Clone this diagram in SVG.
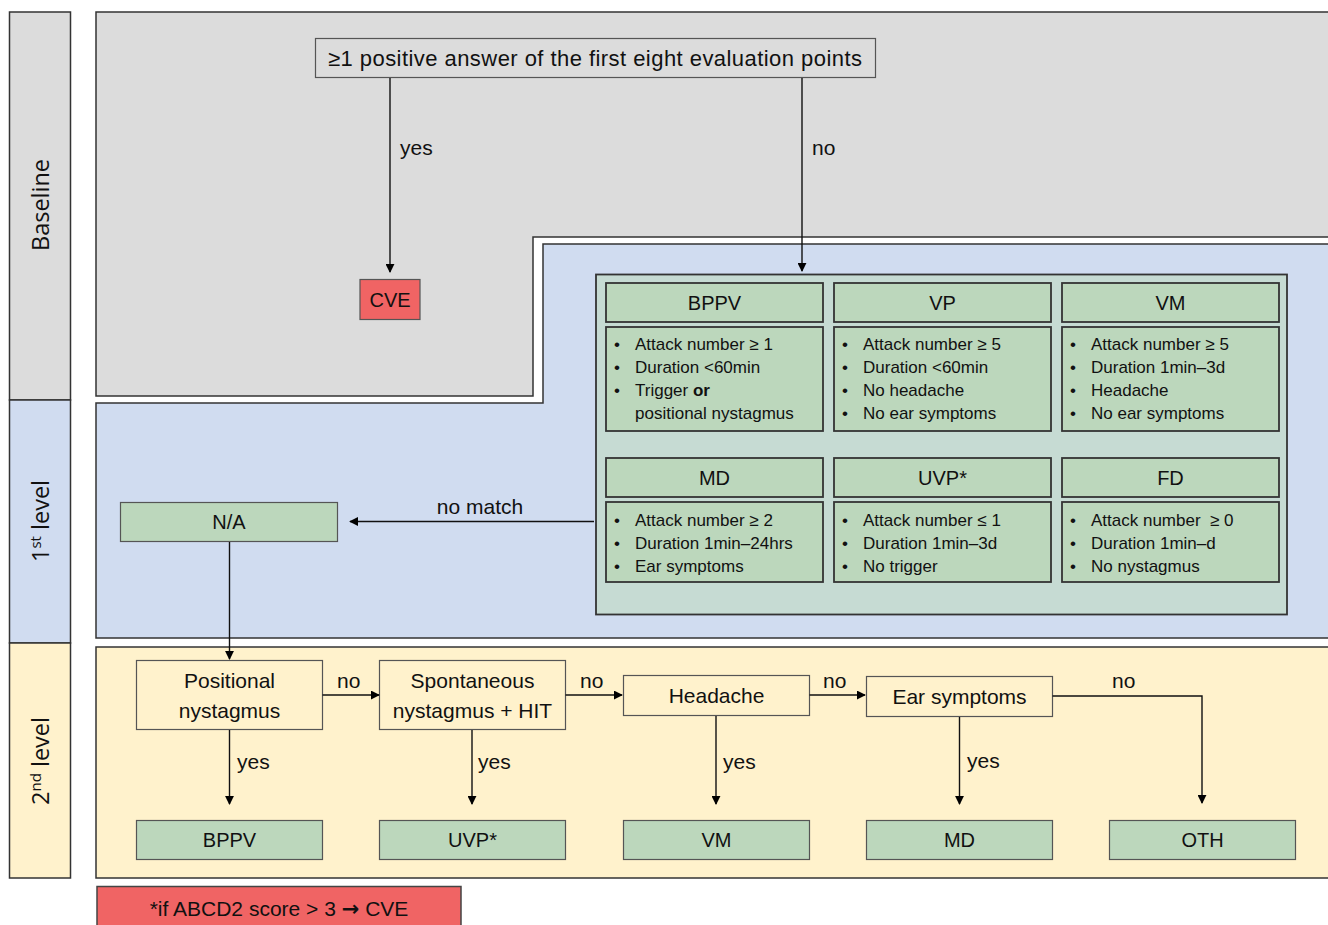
<svg xmlns="http://www.w3.org/2000/svg" width="1328" height="925" viewBox="0 0 1328 925">
<defs>
<marker id="ah" viewBox="0 0 10 10" refX="9" refY="5" markerWidth="9" markerHeight="9" markerUnits="userSpaceOnUse" orient="auto">
<path d="M0,0 L10,5 L0,10 z" fill="#000"/>
</marker>
</defs>
<style>
text{font-family:"Liberation Sans",Arial,sans-serif;fill:#111;}
.side{font-family:"Open Sans","DejaVu Sans",sans-serif;font-size:23.5px;}
.hdr{font-size:20px;text-anchor:middle;}
.b{font-size:17px;}
.lbl{font-size:21px;}
.box{fill:#fff2cc;stroke:#555;stroke-width:1.2;}
.gbox{fill:#bcd7bc;stroke:#333;stroke-width:1.8;}
.gbox2{fill:#bcd7bc;stroke:#555;stroke-width:1.2;}
.conn{stroke:#111;stroke-width:1.4;fill:none;marker-end:url(#ah);}
</style>
<rect width="1328" height="925" fill="#fff"/>
<g id="bands">
<rect x="9.5" y="12" width="61" height="388" fill="#dcdcdc" stroke="#333" stroke-width="1.5"/>
<rect x="9.5" y="400" width="61" height="243" fill="#d0dcf0" stroke="#333" stroke-width="1.5"/>
<rect x="9.5" y="643" width="61" height="235" fill="#fff2cc" stroke="#333" stroke-width="1.5"/>
<text class="side" transform="translate(49,205) rotate(-90)" text-anchor="middle">Baseline</text>
<text class="side" transform="translate(49,521) rotate(-90)" text-anchor="middle">1<tspan font-size="15" dy="-8">st</tspan><tspan dy="8"> level</tspan></text>
<text class="side" transform="translate(49,761) rotate(-90)" text-anchor="middle">2<tspan font-size="15" dy="-8">nd</tspan><tspan dy="8"> level</tspan></text>
</g>
<g id="regions">
<polygon points="96,12 1340,12 1340,237 533,237 533,396 96,396" fill="#dcdcdc" stroke="#333" stroke-width="1.5"/>
<polygon points="96,403 543,403 543,244 1340,244 1340,638 96,638" fill="#d0dcf0" stroke="#333" stroke-width="1.5"/>
<rect x="96" y="647" width="1244" height="231" fill="#fff2cc" stroke="#333" stroke-width="1.5"/>
</g>
<g id="top">
<rect x="315.5" y="38.5" width="560" height="39" fill="#dcdcdc" stroke="#555" stroke-width="1.2"/>
<text x="595" y="66" text-anchor="middle" font-size="22" textLength="534" lengthAdjust="spacing">≥1 positive answer of the first eight evaluation points</text>
</g>
<g id="cve">
<rect x="360" y="279.5" width="60" height="40" fill="#f06464" stroke="#555" stroke-width="1.2"/>
<text class="hdr" x="390" y="307">CVE</text>
</g>
<g id="criteria">
<rect x="596" y="274.5" width="691" height="340" fill="#c6dbd3" stroke="#333" stroke-width="1.8"/>
</g>
<g id="bppv1">
<rect class="gbox" x="606" y="283" width="217" height="39"/>
<text class="hdr" x="714.5" y="310">BPPV</text>
<rect class="gbox" x="606" y="327" width="217" height="104"/>
<text class="b" x="614" y="350">•</text><text class="b" x="635" y="350">Attack number ≥ 1</text>
<text class="b" x="614" y="373">•</text><text class="b" x="635" y="373">Duration &lt;60min</text>
<text class="b" x="614" y="396">•</text><text class="b" x="635" y="396">Trigger <tspan font-weight="bold">or</tspan></text>
<text class="b" x="635" y="419">positional nystagmus</text>
</g>
<g id="vp1">
<rect class="gbox" x="834" y="283" width="217" height="39"/>
<text class="hdr" x="942.5" y="310">VP</text>
<rect class="gbox" x="834" y="327" width="217" height="104"/>
<text class="b" x="842" y="350">•</text><text class="b" x="863" y="350">Attack number ≥ 5</text>
<text class="b" x="842" y="373">•</text><text class="b" x="863" y="373">Duration &lt;60min</text>
<text class="b" x="842" y="396">•</text><text class="b" x="863" y="396">No headache</text>
<text class="b" x="842" y="419">•</text><text class="b" x="863" y="419">No ear symptoms</text>
</g>
<g id="vm1">
<rect class="gbox" x="1062" y="283" width="217" height="39"/>
<text class="hdr" x="1170.5" y="310">VM</text>
<rect class="gbox" x="1062" y="327" width="217" height="104"/>
<text class="b" x="1070" y="350">•</text><text class="b" x="1091" y="350">Attack number ≥ 5</text>
<text class="b" x="1070" y="373">•</text><text class="b" x="1091" y="373">Duration 1min–3d</text>
<text class="b" x="1070" y="396">•</text><text class="b" x="1091" y="396">Headache</text>
<text class="b" x="1070" y="419">•</text><text class="b" x="1091" y="419">No ear symptoms</text>
</g>
<g id="md1">
<rect class="gbox" x="606" y="458" width="217" height="39"/>
<text class="hdr" x="714.5" y="485">MD</text>
<rect class="gbox" x="606" y="502" width="217" height="80"/>
<text class="b" x="614" y="526">•</text><text class="b" x="635" y="526">Attack number ≥ 2</text>
<text class="b" x="614" y="549">•</text><text class="b" x="635" y="549">Duration 1min–24hrs</text>
<text class="b" x="614" y="572">•</text><text class="b" x="635" y="572">Ear symptoms</text>
</g>
<g id="uvp1">
<rect class="gbox" x="834" y="458" width="217" height="39"/>
<text class="hdr" x="942.5" y="485">UVP*</text>
<rect class="gbox" x="834" y="502" width="217" height="80"/>
<text class="b" x="842" y="526">•</text><text class="b" x="863" y="526">Attack number ≤ 1</text>
<text class="b" x="842" y="549">•</text><text class="b" x="863" y="549">Duration 1min–3d</text>
<text class="b" x="842" y="572">•</text><text class="b" x="863" y="572">No trigger</text>
</g>
<g id="fd1">
<rect class="gbox" x="1062" y="458" width="217" height="39"/>
<text class="hdr" x="1170.5" y="485">FD</text>
<rect class="gbox" x="1062" y="502" width="217" height="80"/>
<text class="b" x="1070" y="526">•</text><text class="b" x="1091" y="526" xml:space="preserve">Attack number  ≥ 0</text>
<text class="b" x="1070" y="549">•</text><text class="b" x="1091" y="549">Duration 1min–d</text>
<text class="b" x="1070" y="572">•</text><text class="b" x="1091" y="572">No nystagmus</text>
</g>
<g id="na">
<rect class="gbox2" x="120.5" y="502.5" width="217" height="39"/>
<text class="hdr" x="229" y="529">N/A</text>
</g>
<g id="positional">
<rect class="box" x="136.5" y="660.5" width="186" height="69"/>
<text class="lbl" x="229.5" y="688" text-anchor="middle">Positional</text>
<text class="lbl" x="229.5" y="718" text-anchor="middle">nystagmus</text>
</g>
<g id="spontaneous">
<rect class="box" x="379.5" y="660.5" width="186" height="69"/>
<text class="lbl" x="472.5" y="688" text-anchor="middle">Spontaneous</text>
<text class="lbl" x="472.5" y="718" text-anchor="middle">nystagmus + HIT</text>
</g>
<g id="headache">
<rect class="box" x="623.5" y="675.5" width="186" height="40"/>
<text class="lbl" x="716.5" y="703" text-anchor="middle">Headache</text>
</g>
<g id="ear">
<rect class="box" x="866.5" y="676.5" width="186" height="40"/>
<text class="lbl" x="959.5" y="704" text-anchor="middle">Ear symptoms</text>
</g>
<g id="bppv2"><rect class="gbox2" x="136.5" y="820.5" width="186" height="39"/><text class="hdr" x="229.5" y="847">BPPV</text></g>
<g id="uvp2"><rect class="gbox2" x="379.5" y="820.5" width="186" height="39"/><text class="hdr" x="472.5" y="847">UVP*</text></g>
<g id="vm2"><rect class="gbox2" x="623.5" y="820.5" width="186" height="39"/><text class="hdr" x="716.5" y="847">VM</text></g>
<g id="md2"><rect class="gbox2" x="866.5" y="820.5" width="186" height="39"/><text class="hdr" x="959.5" y="847">MD</text></g>
<g id="oth2"><rect class="gbox2" x="1109.5" y="820.5" width="186" height="39"/><text class="hdr" x="1202.5" y="847">OTH</text></g>
<g id="note">
<rect x="97" y="886.5" width="364" height="45" fill="#f06464" stroke="#444" stroke-width="1.5"/>
<text x="279" y="916" text-anchor="middle" font-size="21">*if ABCD2 score &gt; 3 <tspan font-family="DejaVu Sans" font-weight="bold">→</tspan> CVE</text>
</g>
<g id="connectors">
<line class="conn" x1="390" y1="78" x2="390" y2="272"/>
<line class="conn" x1="802" y1="78" x2="802" y2="271"/>
<line class="conn" x1="594" y1="521.5" x2="350" y2="521.5"/>
<line class="conn" x1="229.5" y1="542" x2="229.5" y2="659"/>
<line class="conn" x1="322.5" y1="695" x2="379" y2="695"/>
<line class="conn" x1="565.5" y1="695" x2="622" y2="695"/>
<line class="conn" x1="809.5" y1="695" x2="865" y2="695"/>
<polyline class="conn" points="1052.5,696 1202,696 1202,803"/>
<line class="conn" x1="229.5" y1="730" x2="229.5" y2="804"/>
<line class="conn" x1="472" y1="730" x2="472" y2="804"/>
<line class="conn" x1="716" y1="716" x2="716" y2="804"/>
<line class="conn" x1="959.5" y1="717" x2="959.5" y2="804"/>
<text class="lbl" x="400" y="155">yes</text>
<text class="lbl" x="812" y="155">no</text>
<text class="lbl" x="480" y="514" text-anchor="middle">no match</text>
<text class="lbl" x="337" y="688">no</text>
<text class="lbl" x="580" y="688">no</text>
<text class="lbl" x="823" y="688">no</text>
<text class="lbl" x="1112" y="688">no</text>
<text class="lbl" x="237" y="769">yes</text>
<text class="lbl" x="478" y="769">yes</text>
<text class="lbl" x="723" y="769">yes</text>
<text class="lbl" x="967" y="768">yes</text>
</g>
</svg>
